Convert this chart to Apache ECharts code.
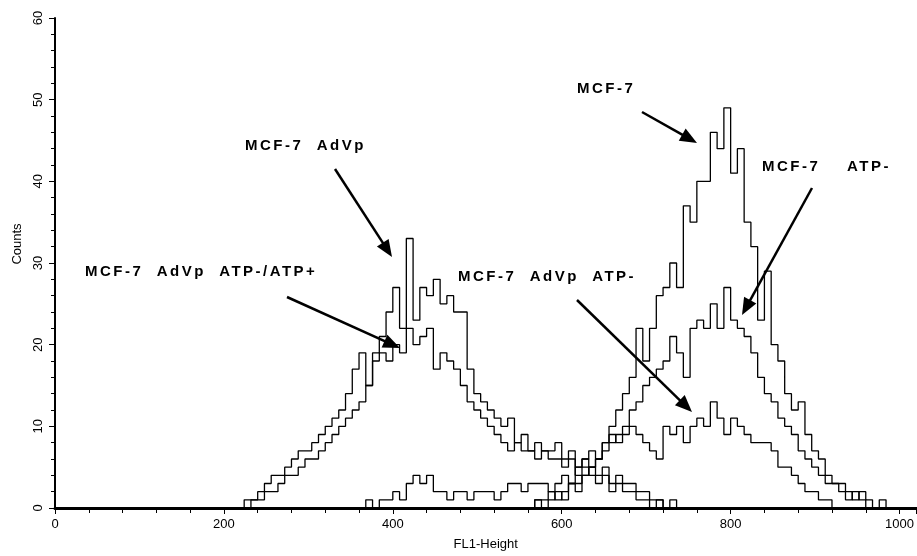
<!DOCTYPE html>
<html>
<head>
<meta charset="utf-8">
<script src="https://cdn.jsdelivr.net/npm/echarts@6/dist/echarts.min.js"></script>
<style>
html,body{margin:0;padding:0;background:#fff;}
#chart{width:917px;height:556px;}
</style>
</head>
<body>
<div id="chart"></div>
<script>
// ---- data (histogram counts, one value per channel bin) ----
const binWidth = 8;
const xLabelValues = [0, 200, 400, 600, 800, 1000];
const yLabelValues = [0, 10, 20, 30, 40, 50, 60];

const advpStart = 216; // MCF-7 AdVp
const advpCounts = [0,1,1,2,3,4,4,5,6,7,7,8,9,10,11,12,14,17,19,15,19,21,24,27,22,33,23,27,26,28,25,26,24,24,17,14,13,12,11,10,11,8,9,7,8,7,7,8,6,7,5,6,5,4,5,3,4,3,3,2,2,1,1,0,1,0];

const advpMixStart = 224; // MCF-7 AdVp ATP-/ATP+
const advpMixCounts = [0,1,1,2,2,3,4,4,5,6,6,7,8,9,10,11,12,13,15,18,19,18,20,19,22,20,21,22,17,19,18,17,15,13,12,11,10,9,8,7,8,7,7,6,7,6,6,5,6,4,5,4,3,4,2,3,2,2,1,1,0,1,0];

const mcf7Start = 560; // MCF-7
const mcf7Counts = [0,1,1,2,1,2,3,3,4,5,6,8,10,12,14,16,22,18,22,26,27,30,27,37,35,40,40,46,44,49,41,44,35,32,23,29,20,18,14,12,13,9,7,6,4,3,3,2,1,2,1,0,1,0];

const atpStart = 560; // MCF-7 ATP-
const atpCounts = [0,1,0,1,2,1,3,2,4,5,6,7,8,9,10,12,13,15,16,17,18,21,19,16,22,23,22,25,22,27,23,22,21,19,16,14,13,11,10,9,7,6,5,4,3,3,2,1,2,1,0];

const advpAtpStart = 360; // MCF-7 AdVp ATP-
const advpAtpCounts = [0,1,0,1,1,2,1,3,4,3,4,2,2,1,2,2,1,2,2,2,1,2,3,3,2,3,3,3,2,3,4,3,5,6,7,6,8,9,8,9,10,9,8,7,6,10,9,10,8,10,11,10,13,11,9,11,10,9,8,8,8,7,5,5,4,3,2,2,1,1,0];

// ---- letter spacing for the bold annotation text ----
(function () {
  const proto = CanvasRenderingContext2D.prototype;
  const orig = proto.fillText;
  proto.fillText = function (t, x, y, w) {
    if ('letterSpacing' in this) this.letterSpacing = /bold/.test(this.font) ? '2.5px' : '0px';
    return w === undefined ? orig.call(this, t, x, y) : orig.call(this, t, x, y, w);
  };
})();

function toSeries(name, start, counts) {
  const data = counts.map((c, i) => [start + i * binWidth, c]);
  data.push([start + counts.length * binWidth, 0]);
  return {
    name: name, type: 'line', step: 'end', data: data,
    showSymbol: false, symbol: 'none', silent: true,
    lineStyle: { color: '#000', width: 1.3 }, z: 3
  };
}

const labels = [
  { text: 'MCF-7  AdVp', x: 245, y: 147 },
  { text: 'MCF-7  AdVp  ATP-/ATP+', x: 85, y: 273 },
  { text: 'MCF-7  AdVp  ATP-', x: 458, y: 278 },
  { text: 'MCF-7', x: 577, y: 90 },
  { text: 'MCF-7    ATP-', x: 762, y: 168 }
];
const arrows = [
  [335, 169, 392, 257],
  [287, 297, 400, 348],
  [577, 300, 692, 412],
  [812, 188, 742, 315],
  [642, 112, 697, 143]
];

const graphics = [];
labels.forEach(l => graphics.push({
  type: 'text', left: l.x, top: l.y - 9, z: 10,
  style: { text: l.text, fill: '#000', font: 'bold 15px "Liberation Sans", Arial, sans-serif' }
}));
arrows.forEach(a => {
  const [x1, y1, x2, y2] = a;
  const dx = x2 - x1, dy = y2 - y1, len = Math.hypot(dx, dy);
  const ux = dx / len, uy = dy / len, hl = 17, hw = 7;
  const bx = x2 - ux * hl, by = y2 - uy * hl;
  graphics.push({ type: 'line', z: 10, shape: { x1: x1, y1: y1, x2: bx + ux * 2, y2: by + uy * 2 },
    style: { stroke: '#000', lineWidth: 2.5 } });
  graphics.push({ type: 'polygon', z: 10, shape: { points: [[x2, y2], [bx - uy * hw, by + ux * hw], [bx + uy * hw, by - ux * hw]] },
    style: { fill: '#000' } });
});

const chart = echarts.init(document.getElementById('chart'), null, { renderer: 'canvas' });
chart.setOption({
  animation: false,
  backgroundColor: '#fff',
  grid: { left: 55, right: 0, top: 18, bottom: 46, containLabel: false },
  xAxis: [{
    type: 'value', min: 0, max: 1020, interval: 200,
    name: 'FL1-Height', nameLocation: 'middle', nameGap: 30,
    nameTextStyle: { color: '#000', fontSize: 13, fontFamily: '"Liberation Sans", Arial, sans-serif' },
    axisLine: { show: true, onZero: false, lineStyle: { color: '#000', width: 3 } },
    axisTick: { show: true, inside: false, length: 6, lineStyle: { color: '#000', width: 1 } },
    minorTick: { show: true, splitNumber: 5, length: 5, lineStyle: { color: '#000', width: 1 } },
    axisLabel: { color: '#000', fontSize: 13, margin: 10, showMaxLabel: false,
      fontFamily: '"Liberation Sans", Arial, sans-serif',
      formatter: v => (xLabelValues.indexOf(v) >= 0 ? String(v) : '') },
    splitLine: { show: false }
  }, {
    type: 'value', position: 'top', min: 0, max: 1020,
    axisLine: { show: true, lineStyle: { color: '#000', width: 1 } },
    axisTick: { show: false }, axisLabel: { show: false }, splitLine: { show: false }
  }],
  yAxis: {
    type: 'value', min: 0, max: 60, interval: 10,
    name: 'Counts', nameLocation: 'middle', nameGap: 28, nameRotate: 90,
    nameTextStyle: { color: '#000', fontSize: 13, fontFamily: '"Liberation Sans", Arial, sans-serif', padding: [0, 0, 0, 38] },
    axisLine: { show: true, lineStyle: { color: '#000', width: 2 } },
    axisTick: { show: true, length: 6, lineStyle: { color: '#000', width: 1 } },
    minorTick: { show: true, splitNumber: 5, length: 4, lineStyle: { color: '#000', width: 1 } },
    axisLabel: { color: '#000', fontSize: 13, rotate: 90, margin: 10,
      fontFamily: '"Liberation Sans", Arial, sans-serif',
      formatter: v => (yLabelValues.indexOf(v) >= 0 ? String(v) : '') },
    splitLine: { show: false }
  },
  series: [
    toSeries('MCF-7 AdVp', advpStart, advpCounts),
    toSeries('MCF-7 AdVp ATP-/ATP+', advpMixStart, advpMixCounts),
    toSeries('MCF-7', mcf7Start, mcf7Counts),
    toSeries('MCF-7 ATP-', atpStart, atpCounts),
    toSeries('MCF-7 AdVp ATP-', advpAtpStart, advpAtpCounts)
  ],
  graphic: graphics
});
</script>
</body>
</html>
